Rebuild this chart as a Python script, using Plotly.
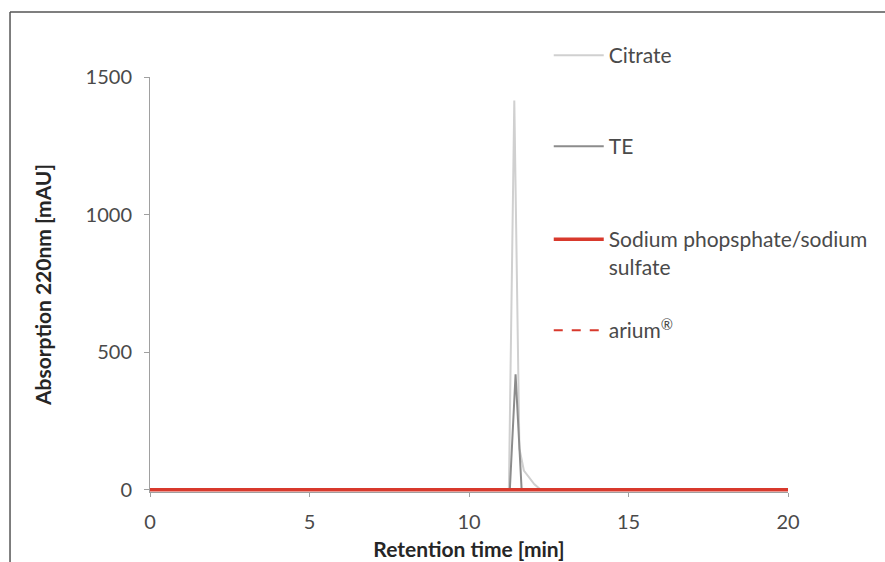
import plotly.graph_objects as go

# Data
citrate_t = [0, 11.25, 11.42, 11.58, 11.72, 11.9, 12.05, 12.25, 20]
citrate_y = [0, 0, 1415, 150, 70, 45, 20, 0, 0]
te_t = [0, 11.28, 11.46, 11.65, 20]
te_y = [0, 0, 420, 0, 0]
sodium_t = [0, 20]
sodium_y = [0, 0]
arium_t = [0, 20]
arium_y = [0, 0]

x_ticks = [0, 5, 10, 15, 20]
y_ticks = [0, 500, 1000, 1500]

FONT = "Lato"
TXT = "#4a4a4a"
TITLE = "#262626"
RED = "#d8392c"
LEG_FS = 21

fig = go.Figure()
fig.add_trace(go.Scatter(x=arium_t, y=arium_y, mode="lines", name="arium<sup>®</sup>",
                         line=dict(color=RED, width=2, dash="dash"), legend="legend4"))
fig.add_trace(go.Scatter(x=citrate_t, y=citrate_y, mode="lines", name="Citrate",
                         line=dict(color="#d0d0d0", width=2), legend="legend"))
fig.add_trace(go.Scatter(x=te_t, y=te_y, mode="lines", name="TE",
                         line=dict(color="#8c8c8c", width=2), legend="legend2"))
fig.add_trace(go.Scatter(x=sodium_t, y=sodium_y, mode="lines",
                         name="Sodium phopsphate/sodium<br>sulfate",
                         line=dict(color=RED, width=3.5), legend="legend3"))

# plot area: 0 at y=490px, 1500 at y=77px; range starts a little below 0
# so the baseline is not half-clipped
H_PLOT = 415
Y0 = -8

def py(frac_pix):
    # convert a pixel row (from top) to paper y of the plot area
    return (562 - 70 - frac_pix) / H_PLOT

def leg(y):
    return dict(x=0.625, y=y, xanchor="left", yanchor="top",
                bgcolor="rgba(0,0,0,0)", valign="top", itemwidth=50,
                font=dict(family=FONT, size=LEG_FS, color=TXT))

fig.update_layout(
    width=885, height=562,
    margin=dict(l=150, r=97, t=77, b=70),
    paper_bgcolor="white", plot_bgcolor="white",
    font=dict(family=FONT, size=20, color=TXT),
    showlegend=True,
    legend=leg(py(35)), legend2=leg(py(126)), legend3=leg(py(219)), legend4=leg(py(310)),
    xaxis=dict(range=[0, 20], tickvals=x_ticks, showgrid=False, zeroline=False,
               automargin=False,
               showline=True, linecolor="#a0a0a0", linewidth=1,
               ticks="outside", ticklen=4, tickcolor="#a0a0a0",
               ticklabelstandoff=8,
               tickfont=dict(size=20, color=TXT),
               title=dict(text="<b>Retention time [min]</b>", standoff=10,
                          font=dict(size=21, color=TITLE))),
    yaxis=dict(range=[Y0, 1500], tickvals=y_ticks, showgrid=False, zeroline=False,
               automargin=False,
               showline=True, linecolor="#a0a0a0", linewidth=1,
               ticks="outside", ticklen=5, tickcolor="#a0a0a0",
               ticklabelstandoff=8,
               tickfont=dict(size=20, color=TXT),
               title=dict(text="<b>Absorption 220nm [mAU]</b>", standoff=28,
                          font=dict(size=21, color=TITLE))),
)

# image frame (top and left border lines)
fig.add_shape(type="line", xref="paper", yref="paper", x0=-0.2194, x1=1.16,
              y0=py(12), y1=py(12), line=dict(color="#555555", width=1.5))
fig.add_shape(type="line", xref="paper", yref="paper", x0=-0.2194, x1=-0.2194,
              y0=py(12), y1=py(570), line=dict(color="#555555", width=1.5))

fig.write_html("out.html")
